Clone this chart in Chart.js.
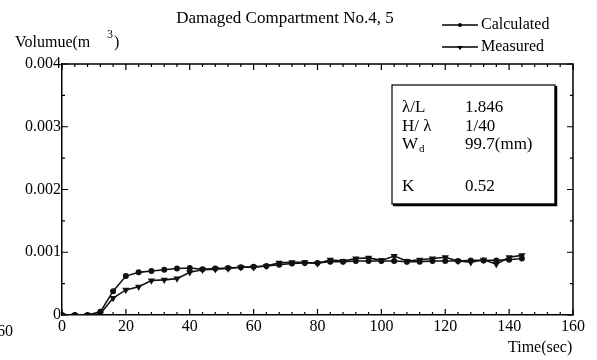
<!DOCTYPE html>
<html>
<head>
<meta charset="utf-8">
<script src="https://cdn.jsdelivr.net/npm/chart.js@4.4.0/dist/chart.umd.min.js"></script>
<style>
  html, body { margin: 0; padding: 0; background: #fff; }
  #wrap { width: 597px; height: 360px; }
</style>
</head>
<body>
<div id="wrap"><canvas id="myChart" width="597" height="360"></canvas></div>
<script>
// time samples (sec)
const timeData = [0, 4, 8, 12, 16, 20, 24, 28, 32, 36, 40, 44, 48, 52, 56, 60, 64, 68, 72,
  76, 80, 84, 88, 92, 96, 100, 104, 108, 112, 116, 120, 124, 128, 132, 136, 140, 144]

// volume (m^3)
const calculatedData = [0, 0, 0, 0.00005, 0.00038, 0.00062, 0.00068, 0.0007, 0.00072, 0.00074, 0.00075,
  0.00073, 0.00074, 0.00075, 0.00076, 0.00077, 0.00078, 0.0008, 0.00082, 0.00083, 0.00083,
  0.00085, 0.00085, 0.00086, 0.00086, 0.00086, 0.00086, 0.00085, 0.00085, 0.00086, 0.00086,
  0.00086, 0.00087, 0.00087, 0.00087, 0.00088, 0.0009]

const measuredData = [0, 0, 0, 0.00002, 0.00027, 0.0004, 0.00045, 0.00055, 0.00056, 0.00058, 0.00068,
  0.00072, 0.00073, 0.00074, 0.00076, 0.00076, 0.00078, 0.00083, 0.00084, 0.00084, 0.00082,
  0.00088, 0.00086, 0.0009, 0.00091, 0.00087, 0.00094, 0.00086, 0.00088, 0.0009, 0.00092,
  0.00086, 0.00084, 0.00088, 0.00081, 0.00092, 0.00095]

const xTicks = [0, 20, 40, 60, 80, 100, 120, 140, 160]
const yTicks = [0, 0.001, 0.002, 0.003, 0.004]

const titleText = 'Damaged Compartment No.4, 5'
const seriesNames = ['Calculated', 'Measured']
const boxLabels = ['λ/L', 'H/ λ', 'W', 'K']
const boxValues = ['1.846', '1/40', '99.7(mm)', '0.52']

const serif = '"Liberation Serif", "DejaVu Serif", serif'

const toPoints = (arr) => arr.map((v, i) => ({ x: timeData[i], y: v }))

// inward ticks on all four sides, top/right frame, texts
const decorPlugin = {
  id: 'decor',
  afterDraw(chart) {
    const ctx = chart.ctx
    const a = chart.chartArea
    const xs = chart.scales.x
    const ys = chart.scales.y
    ctx.save()
    ctx.strokeStyle = '#000'
    ctx.lineWidth = 1.5
    ctx.beginPath()
    ctx.moveTo(a.left, a.top); ctx.lineTo(a.right, a.top); ctx.lineTo(a.right, a.bottom)
    ctx.stroke()

    ctx.lineWidth = 1.2
    ctx.beginPath()
    for (let t = 0; t <= 160; t += 4) {
      const px = xs.getPixelForValue(t)
      const len = t % 20 === 0 ? 6 : 3
      ctx.moveTo(px, a.bottom); ctx.lineTo(px, a.bottom - len)
      ctx.moveTo(px, a.top); ctx.lineTo(px, a.top + len)
    }
    for (let k = 0; k <= 8; k++) {
      const py = ys.getPixelForValue(k * 0.0005)
      const len = k % 2 === 0 ? 6 : 3
      ctx.moveTo(a.left, py); ctx.lineTo(a.left + len, py)
      ctx.moveTo(a.right, py); ctx.lineTo(a.right - len, py)
    }
    ctx.stroke()

    ctx.fillStyle = '#000'
    ctx.textBaseline = 'alphabetic'

    // title
    ctx.font = '17px ' + serif
    ctx.textAlign = 'center'
    ctx.fillText(titleText, 285, 23)

    // legend
    ctx.textAlign = 'left'
    const legY = [25, 47]
    seriesNames.forEach((name, i) => {
      ctx.beginPath()
      ctx.lineWidth = 1.3
      ctx.moveTo(442, legY[i]); ctx.lineTo(478, legY[i])
      ctx.stroke()
      ctx.beginPath()
      if (i === 0) {
        ctx.arc(460, legY[i], 2, 0, Math.PI * 2)
      } else {
        ctx.moveTo(457, legY[i] - 1); ctx.lineTo(463, legY[i] - 1); ctx.lineTo(460, legY[i] + 3)
      }
      ctx.fill()
      ctx.font = '16px ' + serif
      ctx.fillText(name, 481, legY[i] + 4)
    })

    // axis titles
    ctx.font = '16px ' + serif
    ctx.fillText('Volumue(m', 15, 47)
    ctx.font = '12px ' + serif
    ctx.fillText('3', 107, 38)
    ctx.font = '16px ' + serif
    ctx.fillText(')', 114, 47)
    ctx.fillText('Time(sec)', 508, 352)
    ctx.fillText('60', -3, 336)

    // parameter box
    ctx.lineWidth = 1.2
    ctx.strokeRect(392, 85, 163, 119)
    ctx.lineWidth = 2.5
    ctx.beginPath()
    ctx.moveTo(393, 205); ctx.lineTo(556, 205); ctx.lineTo(556, 86)
    ctx.stroke()

    const rowY = [112, 131, 149, 191]
    ctx.font = '17px ' + serif
    boxLabels.forEach((lab, i) => {
      ctx.fillText(lab, 402, rowY[i])
      ctx.fillText(boxValues[i], 465, rowY[i])
    })
    ctx.font = '11px ' + serif
    ctx.fillText('d', 419, rowY[2] + 3)
    ctx.restore()
  }
}

const ctx = document.getElementById('myChart').getContext('2d')

const chart = new Chart(ctx, {
  type: 'line',
  data: {
    datasets: [
      {
        label: seriesNames[0],
        data: toPoints(calculatedData),
        borderColor: '#111',
        backgroundColor: '#111',
        borderWidth: 1.6,
        pointStyle: 'circle',
        pointRadius: 2.2,
        tension: 0
      }, {
        label: seriesNames[1],
        data: toPoints(measuredData),
        borderColor: '#111',
        backgroundColor: '#111',
        borderWidth: 1.6,
        pointStyle: 'triangle',
        rotation: 180,
        pointRadius: 2.6,
        tension: 0
      }
    ]
  },
  options: {
    responsive: false,
    animation: false,
    layout: {
      padding: { left: 0, top: 64, right: 24, bottom: 0 }
    },
    plugins: {
      legend: { display: false },
      title: { display: false },
      tooltip: { enabled: false }
    },
    scales: {
      x: {
        type: 'linear',
        min: 0,
        max: 160,
        afterBuildTicks: (scale) => { scale.ticks = xTicks.map(v => ({ value: v })) },
        afterFit: (scale) => { scale.height = 45 },
        ticks: {
          color: '#000',
          font: { family: serif, size: 16 },
          padding: 2,
          maxRotation: 0,
          callback: (v) => String(v)
        },
        grid: { display: false, drawTicks: false },
        border: { display: true, color: '#000', width: 1.5 }
      },
      y: {
        min: 0,
        max: 0.004,
        afterBuildTicks: (scale) => { scale.ticks = yTicks.map(v => ({ value: v })) },
        afterFit: (scale) => { scale.width = 62 },
        ticks: {
          color: '#000',
          font: { family: serif, size: 16 },
          padding: 1,
          callback: (v) => v === 0 ? '0' : v.toFixed(3)
        },
        grid: { display: false, drawTicks: false },
        border: { display: true, color: '#000', width: 1.5 }
      }
    }
  },
  plugins: [decorPlugin]
})
</script>
</body>
</html>
